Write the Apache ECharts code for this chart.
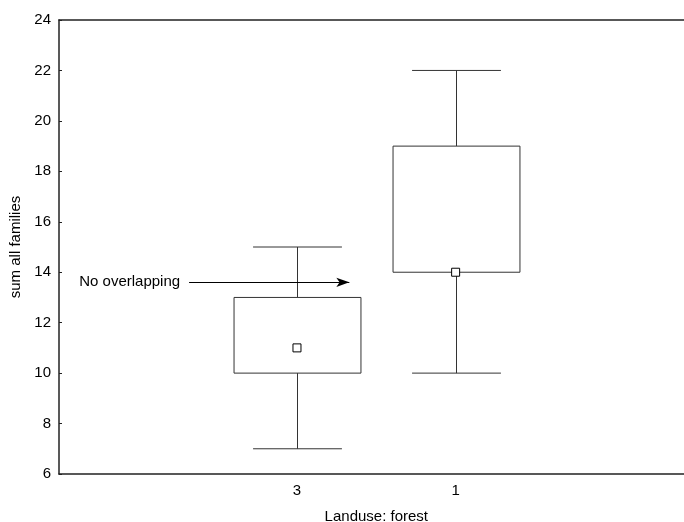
<!DOCTYPE html>
<html>
<head>
<meta charset="utf-8">
<script src="https://cdn.jsdelivr.net/npm/echarts@6/dist/echarts.min.js"></script>
<style>
  html, body { margin: 0; padding: 0; background: #fff; }
  #chart { width: 684px; height: 522px; }
</style>
</head>
<body>
<div id="chart"></div>
<script>
// Landuse groups shown on the x axis
var groups = ['3', '1'];
// Box statistics per group
var whiskerMin = [7, 10];
var boxLow = [10, 14];
var boxHigh = [13, 19];
var whiskerMax = [15, 22];
var medians = [11, 14];

// y-axis scale
var yMin = 6, yMax = 24, yStep = 2;

// annotation arrow (x in category-index units, y in data units)
var arrowY = 13.6;
var arrowFrom = 0.32;
var arrowTo = 1.33;
var arrowText = 'No overlapping';

// the axis has an empty slot on each side of the two groups
var categories = [''].concat(groups).concat(['']);
var boxData = groups.map(function (g, i) {
  return [i + 1, whiskerMin[i], boxLow[i], boxHigh[i], whiskerMax[i]];
});
var medianData = groups.map(function (g, i) {
  return [i + 1, medians[i]];
});

var FONT = 'Liberation Sans, Arial, sans-serif';
var FONT_SIZE = 15;
var AXIS_COLOR = '#222';

function renderBox(params, api) {
  var x = api.value(0);
  var pMin = api.coord([x, api.value(1)]);
  var pLow = api.coord([x, api.value(2)]);
  var pHigh = api.coord([x, api.value(3)]);
  var pMax = api.coord([x, api.value(4)]);
  var band = api.size([1, 0])[0];
  var boxHalf = band * 0.4;
  var capHalf = band * 0.28;
  var cx = Math.round(pLow[0]) + 0.5;
  var style = { stroke: '#333', lineWidth: 1, fill: null };
  return {
    type: 'group',
    children: [
      { type: 'line', shape: { x1: cx, y1: pHigh[1], x2: cx, y2: pMax[1] }, style: style },
      { type: 'line', shape: { x1: cx, y1: pLow[1], x2: cx, y2: pMin[1] }, style: style },
      { type: 'line', shape: { x1: cx - capHalf, y1: pMax[1], x2: cx + capHalf, y2: pMax[1] }, style: style },
      { type: 'line', shape: { x1: cx - capHalf, y1: pMin[1], x2: cx + capHalf, y2: pMin[1] }, style: style },
      {
        type: 'rect',
        shape: { x: cx - boxHalf, y: pHigh[1], width: boxHalf * 2, height: pLow[1] - pHigh[1] },
        style: { stroke: '#333', lineWidth: 1, fill: '#fff' }
      }
    ]
  };
}

var chart = echarts.init(document.getElementById('chart'));
chart.setOption({
  animation: false,
  backgroundColor: '#fff',
  textStyle: { fontFamily: FONT },
  grid: { left: 59, top: 20, right: -9.6, bottom: 48, containLabel: false, outerBoundsMode: 'none' },
  xAxis: [
    {
      type: 'category',
      data: categories,
      position: 'bottom',
      boundaryGap: true,
      name: 'Landuse: forest',
      nameLocation: 'middle',
      nameGap: 35,
      nameTextStyle: { fontFamily: FONT, fontSize: FONT_SIZE, color: '#000' },
      axisLine: { onZero: false, lineStyle: { color: AXIS_COLOR, width: 1.5 } },
      axisTick: { inside: true, length: 3, alignWithLabel: true, lineStyle: { color: AXIS_COLOR } },
      axisLabel: { fontFamily: FONT, fontSize: FONT_SIZE, color: '#000', margin: 9, interval: 0 },
      splitLine: { show: false }
    },
    {
      type: 'category',
      data: categories,
      position: 'top',
      boundaryGap: true,
      axisLine: { onZero: false, lineStyle: { color: AXIS_COLOR, width: 1.5 } },
      axisTick: { inside: true, length: 3, alignWithLabel: true, lineStyle: { color: AXIS_COLOR } },
      axisLabel: { show: false },
      splitLine: { show: false }
    },
    {
      type: 'value',
      min: -0.5,
      max: categories.length - 0.5,
      show: false
    }
  ],
  yAxis: {
    type: 'value',
    min: yMin,
    max: yMax,
    interval: yStep,
    name: 'sum all families',
    nameLocation: 'middle',
    nameGap: 33,
    nameTextStyle: { fontFamily: FONT, fontSize: FONT_SIZE, color: '#000' },
    axisLine: { show: true, onZero: false, lineStyle: { color: AXIS_COLOR, width: 1.5 } },
    axisTick: { show: true, inside: true, length: 3, lineStyle: { color: AXIS_COLOR } },
    axisLabel: { fontFamily: FONT, fontSize: FONT_SIZE, color: '#000', margin: 8 },
    splitLine: { show: false }
  },
  series: [
    {
      type: 'custom',
      xAxisIndex: 0,
      renderItem: renderBox,
      data: boxData,
      encode: { x: 0, y: [1, 2, 3, 4] },
      z: 2
    },
    {
      type: 'scatter',
      xAxisIndex: 0,
      data: medianData,
      symbol: 'rect',
      symbolSize: 8,
      itemStyle: { color: '#fff', borderColor: '#000', borderWidth: 1, opacity: 1 },
      z: 3
    },
    {
      type: 'line',
      xAxisIndex: 2,
      data: [],
      silent: true,
      markLine: {
        silent: true,
        symbol: ['none', 'arrow'],
        symbolSize: [7, 13],
        lineStyle: { color: '#000', width: 1, type: 'solid' },
        label: {
          show: true,
          position: 'start',
          distance: 9,
          formatter: arrowText,
          fontFamily: FONT,
          fontSize: FONT_SIZE,
          color: '#000'
        },
        data: [[
          { coord: [arrowFrom, arrowY] },
          { coord: [arrowTo, arrowY] }
        ]]
      }
    }
  ]
});
</script>
</body>
</html>
